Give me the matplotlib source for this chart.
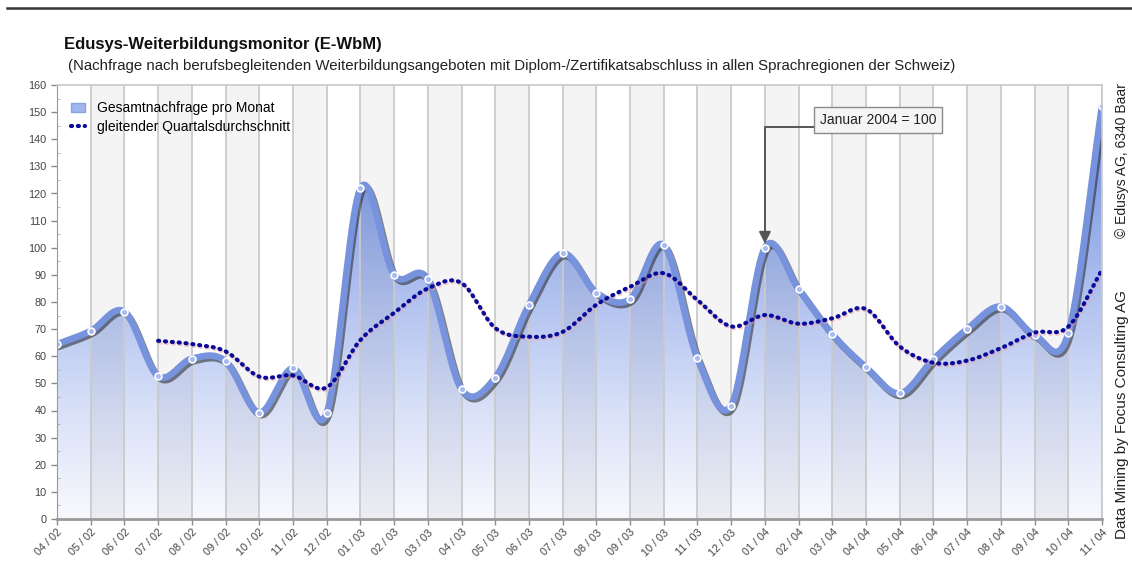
import numpy as np
import matplotlib
matplotlib.use("Agg")
import matplotlib.pyplot as plt
from matplotlib.colors import LinearSegmentedColormap
from matplotlib.patches import Polygon, Patch
from matplotlib.lines import Line2D
import matplotlib.patheffects as pe

plt.rcParams["font.family"] = ["Liberation Sans", "DejaVu Sans"]

# months shown on the x axis
months = [
    "04 / 02", "05 / 02", "06 / 02", "07 / 02", "08 / 02", "09 / 02", "10 / 02",
    "11 / 02", "12 / 02", "01 / 03", "02 / 03", "03 / 03", "04 / 03", "05 / 03",
    "06 / 03", "07 / 03", "08 / 03", "09 / 03", "10 / 03", "11 / 03", "12 / 03",
    "01 / 04", "02 / 04", "03 / 04", "04 / 04", "05 / 04", "06 / 04", "07 / 04",
    "08 / 04", "09 / 04", "10 / 04", "11 / 04",
]

# total demand per month (index, Januar 2004 = 100)
demand = [
    64.4, 69.3, 76.4, 52.7, 59.1, 58.2, 39.2, 55.5, 39.0, 121.9, 90.0, 88.3,
    47.8, 52.1, 78.9, 97.9, 83.4, 81.1, 101.0, 59.2, 41.8, 100.0, 84.7, 68.1,
    55.9, 46.3, 58.9, 70.0, 78.3, 67.8, 68.4, 152.3,
]

# moving quarterly average, starts with 07 / 02
avg_start = 3
moving_avg = [
    65.7, 64.5, 61.8, 52.5, 52.9, 48.5, 66.0, 76.0, 85.0, 87.0, 70.4, 67.2,
    69.0, 79.0, 85.6, 90.6, 80.7, 71.0, 75.2, 72.0, 74.0, 77.4, 63.6, 57.6,
    58.4, 63.0, 68.7, 70.9, 91.8,
]

base_label = "Januar 2004 = 100"
base_month = "01 / 04"


def catmull_rom(x, y, n=20):
    # smooth curve through the points, like the original chart
    pts = np.column_stack([x, y]).astype(float)
    p = np.vstack([2 * pts[0] - pts[1], pts, 2 * pts[-1] - pts[-2]])
    t = np.linspace(0, 1, n, endpoint=False)[:, None]
    out = []
    for i in range(1, len(p) - 2):
        p0, p1, p2, p3 = p[i - 1], p[i], p[i + 1], p[i + 2]
        seg = 0.5 * (2 * p1 + (-p0 + p2) * t
                     + (2 * p0 - 5 * p1 + 4 * p2 - p3) * t ** 2
                     + (-p0 + 3 * p1 - 3 * p2 + p3) * t ** 3)
        out.append(seg)
    out.append(pts[-1:])
    s = np.vstack(out)
    return s[:, 0], s[:, 1]


fig = plt.figure(figsize=(11.32, 5.70), dpi=100)
fig.patch.set_facecolor("white")
ax = fig.add_axes([57 / 1132, 1 - 519 / 570, (1102 - 57) / 1132, (519 - 85) / 570])

x = np.arange(len(months))
ymax = 160

# alternating column shading
for i in range(len(months) - 1):
    if i % 2 == 1:
        ax.axvspan(i, i + 1, color="black", alpha=0.045, lw=0, zorder=2)
for xi in x:
    ax.axvline(xi, color="#cacaca", lw=1.3, zorder=2.5)

# gradient fill under the demand curve
sx, sy = catmull_rom(x, demand)
cmap = LinearSegmentedColormap.from_list(
    "fill", ["#f8f9fe", "#d9e1f8", "#b3c3f0", "#8aa3e6", "#6d8bdd"])
grad = np.linspace(0, 1, 256)[:, None]
im = ax.imshow(grad, extent=[x[0], x[-1], 0, ymax], origin="lower",
               aspect="auto", cmap=cmap, zorder=1)
verts = np.vstack([[sx[0], 0], np.column_stack([sx, sy]), [sx[-1], 0]])
poly = Polygon(verts, closed=True, facecolor="none", edgecolor="none")
ax.add_patch(poly)
im.set_clip_path(poly)

ax.plot(sx, sy, color="#7893dd", lw=4.8, solid_capstyle="round", zorder=4,
        path_effects=[pe.SimpleLineShadow(offset=(1.4, -1.8), shadow_color="#222222", alpha=0.55),
                      pe.Normal()])
ax.scatter(x, demand, s=24, facecolor="#a9bcef", edgecolor="white", lw=1.2, zorder=6)

# moving average, dotted
ax_x = x[avg_start:]
mx, my = catmull_rom(ax_x, moving_avg)
ax.plot(mx, my, color="#0a0a9a", lw=3.0, dashes=(0.25, 1.4), dash_capstyle="round",
        zorder=7,
        path_effects=[pe.SimpleLineShadow(offset=(0.8, -1.2), shadow_color="#e8a0a0", alpha=0.5),
                      pe.Normal()])

# annotation for the base month
bi = months.index(base_month)
ax.annotate(base_label, xy=(bi, demand[bi] + 1.5), xytext=(24.36, 147.1),
            ha="center", va="center", fontsize=10, color="#222222", zorder=9,
            bbox=dict(boxstyle="square,pad=0.4", fc="#f5f5f5", ec="#8a8a8a", lw=1),
            arrowprops=dict(arrowstyle="-|>,head_length=0.7,head_width=0.35",
                            color="#555555", lw=1.4, relpos=(0, 0),
                            connectionstyle="angle,angleA=0,angleB=90,rad=0",
                            shrinkA=0, shrinkB=0))

ax.set_xlim(x[0], x[-1])
ax.set_ylim(0, ymax)
ax.set_xticks(x)
ax.set_xticklabels(months, rotation=45, ha="right", rotation_mode="anchor",
                   fontsize=7.8, color="#444444")
ax.set_yticks(np.arange(0, ymax + 1, 10))
ax.set_yticks(np.arange(5, ymax, 10), minor=True)
ax.tick_params(axis="y", labelsize=7.8, labelcolor="#444444", color="#888888",
               length=4, width=1)
ax.tick_params(axis="y", which="minor", direction="in", length=2.5, color="#aaaaaa")
ax.tick_params(axis="x", color="#888888", length=4, width=1, pad=2)
for side in ["top", "right"]:
    ax.spines[side].set_color("#c8c8c8")
    ax.spines[side].set_linewidth(1.2)
ax.spines["left"].set_color("#999999")
ax.spines["bottom"].set_color("#999999")
ax.spines["bottom"].set_linewidth(2)
for s in ax.spines.values():
    s.set_zorder(8)

handles = [
    Patch(facecolor="#a2b6ee", edgecolor="#8aa2e4", lw=1),
    Line2D([0], [0], color="#0a0a9a", lw=3.0, dashes=(0.25, 1.4), dash_capstyle="round"),
]
ax.legend(handles, ["Gesamtnachfrage pro Monat", "gleitender Quartalsdurchschnitt"],
          loc="upper left", bbox_to_anchor=(0.004, 0.985), frameon=False,
          fontsize=10, handlelength=1.0, handletextpad=0.9, labelspacing=0.35,
          borderaxespad=0.3)

fig.text(64 / 1132, 1 - 45 / 570, "Edusys-Weiterbildungsmonitor (E-WbM)",
         fontsize=12, fontweight="bold", color="#111111", va="center", ha="left")
fig.text(68 / 1132, 1 - 66 / 570,
         "(Nachfrage nach berufsbegleitenden Weiterbildungsangeboten mit "
         "Diplom-/Zertifikatsabschluss in allen Sprachregionen der Schweiz)",
         fontsize=10.8, color="#222222", va="center", ha="left")
fig.text(1122 / 1132, 1 - 161 / 570, "\u00a9 Edusys AG, 6340 Baar", rotation=90,
         fontsize=10, color="#222222", ha="center", va="center")
fig.text(1122 / 1132, 1 - 415 / 570, "Data Mining by Focus Consulting AG", rotation=90,
         fontsize=11, color="#222222", ha="center", va="center")
fig.add_artist(Line2D([7 / 1132, 1], [1 - 8 / 570, 1 - 8 / 570], color="#333333", lw=1.8))

fig.savefig("out.png", dpi=100)
